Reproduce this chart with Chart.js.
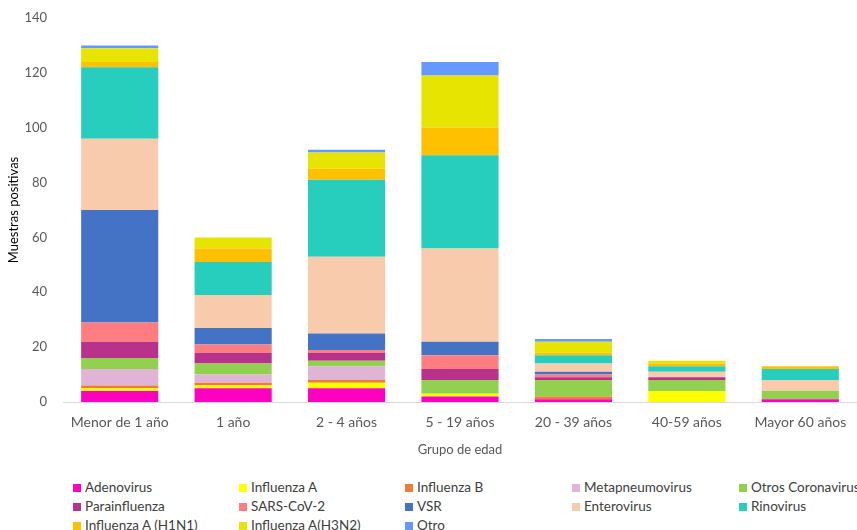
<!DOCTYPE html>
<html>
<head>
<meta charset="utf-8">
<script src="https://cdn.jsdelivr.net/npm/chart.js@4"></script>
<style>
  body { margin: 0; background: #fff; overflow: hidden; }
  #wrap { position: relative; width: 857px; height: 530px; overflow: hidden; }
  #chart { position: absolute; left: 0; top: 0; }
  #legend { position: absolute; left: 0; top: 478px; width: 857px; font-family: Lato, "Open Sans", sans-serif; font-size: 13.5px; color: #404040; }
  .item { position: absolute; white-space: nowrap; line-height: 19px; }
  .box { display: inline-block; width: 8px; height: 8px; margin-right: 4px; }
</style>
</head>
<body>
<div id="wrap">
  <canvas id="chart" width="857" height="458"></canvas>
  <div id="legend"></div>
</div>
<script>
const labels = ['Menor de 1 año', '1 año', '2 - 4 años', '5 - 19 años', '20 - 39 años', '40-59 años', 'Mayor 60 años'];

const adenovirus       = [4, 5, 5, 2, 1, 0, 1];
const influenzaA       = [1, 1, 2, 1, 0, 4, 0];
const influenzaB       = [1, 1, 1, 0, 1, 0, 0];
const metapneumovirus  = [6, 3, 5, 0, 0, 0, 0];
const otrosCoronavirus = [4, 4, 2, 5, 6, 4, 3];
const parainfluenza    = [6, 4, 3, 4, 1, 1, 0];
const sarsCov2         = [7, 3, 1, 5, 1, 0, 0];
const vsr              = [41, 6, 6, 5, 1, 0, 0];
const enterovirus      = [26, 12, 28, 34, 3, 2, 4];
const rinovirus        = [26, 12, 28, 34, 3, 2, 4];
const h1n1             = [2, 5, 4, 10, 1, 1, 1];
const h3n2             = [5, 4, 6, 19, 4, 1, 0];
const otro             = [1, 0, 1, 5, 1, 0, 0];

const series = [
  ['Adenovirus', adenovirus, '#FF00C0'],
  ['Influenza A', influenzaA, '#FFFF00'],
  ['Influenza B', influenzaB, '#ED7D31'],
  ['Metapneumovirus', metapneumovirus, '#E0B4D4'],
  ['Otros Coronavirus', otrosCoronavirus, '#92D050'],
  ['Parainfluenza', parainfluenza, '#B8318A'],
  ['SARS-CoV-2', sarsCov2, '#FF7C80'],
  ['VSR', vsr, '#4472C4'],
  ['Enterovirus', enterovirus, '#F8CBAD'],
  ['Rinovirus', rinovirus, '#27CEBD'],
  ['Influenza A (H1N1)', h1n1, '#FFC000'],
  ['Influenza A(H3N2)', h3n2, '#E6E400'],
  ['Otro', otro, '#6699FF']
];

const font = "Lato, 'Open Sans', sans-serif";
const grey = '#595959';

const chart = new Chart(document.getElementById('chart').getContext('2d'), {
  type: 'bar',
  data: {
    labels: labels,
    datasets: series.map(s => ({
      label: s[0],
      data: s[1],
      backgroundColor: s[2],
      borderWidth: 0,
      categoryPercentage: 0.68,
      barPercentage: 1
    }))
  },
  options: {
    responsive: false,
    animation: false,
    layout: { padding: { top: 18, right: 0, left: 0, bottom: 0 } },
    plugins: {
      legend: { display: false },
      tooltip: { enabled: false }
    },
    scales: {
      x: {
        stacked: true,
        grid: { display: false },
        border: { color: '#D9D9D9', width: 1 },
        ticks: { color: grey, font: { family: font, size: 14 }, padding: 4, maxRotation: 0 },
        title: { display: true, text: 'Grupo de edad', color: grey, font: { family: font, size: 13 }, padding: { top: 6, bottom: 0 } },
        afterFit: s => { s.height = 56; }
      },
      y: {
        stacked: true,
        min: 0,
        max: 140,
        grid: { display: false },
        border: { display: false },
        ticks: { stepSize: 20, color: grey, font: { family: font, size: 13 }, padding: 8 },
        title: { display: true, text: 'Muestras positivas', color: '#000', font: { family: font, size: 13 }, padding: { top: 6, bottom: 0 } },
        afterFit: s => { s.width = 63; }
      }
    }
  }
});

// legend in 5 fixed columns, like the original
const cols = [73, 239, 405, 572, 739];
const legend = document.getElementById('legend');
chart.data.datasets.forEach((ds, i) => {
  const el = document.createElement('div');
  el.className = 'item';
  el.style.left = cols[i % 5] + 'px';
  el.style.top = Math.floor(i / 5) * 19 + 'px';
  el.innerHTML = '<span class="box" style="background:' + ds.backgroundColor + '"></span>' + ds.label;
  legend.appendChild(el);
});
</script>
</body>
</html>
